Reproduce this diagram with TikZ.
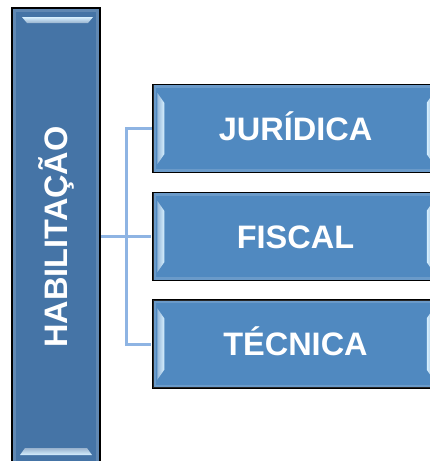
\documentclass[tikz,border=0pt]{standalone}
\usepackage{fontspec}
\setmainfont{Liberation Sans}
\usetikzlibrary{calc}
\definecolor{habblue}{RGB}{69,116,166}
\definecolor{boxblue}{RGB}{80,137,192}
\definecolor{linkblue}{RGB}{142,180,227}
\definecolor{shine}{RGB}{215,240,255}

\tikzset{
  bluebox/.style={draw=black, line width=1.5pt, fill=boxblue, minimum width=285pt,
    minimum height=88pt, text=white, text height=23.5pt, text depth=0pt,
    font=\bfseries\fontsize{32.5}{34}\selectfont},
  habbox/.style={bluebox, fill=habblue, minimum width=458pt, rotate=90},
  rim/.style={draw=white, draw opacity=0.15, line width=3pt},
  link/.style={draw=linkblue, line width=3pt, shorten >=0.8pt}
}

\begin{document}
\begin{tikzpicture}[x=1pt,y=1pt]
\useasboundingbox (0,0) rectangle (430,-461);
\clip (0,0) rectangle (430,-461);

\node[habbox] (hab) at (56,-237) {HABILITAÇÃO};
% the three kinds on the right
\foreach \name/\txt/\y in {jur/JURÍDICA/128.5, fis/FISCAL/236.5, tec/TÉCNICA/344}
  \node[bluebox] (\name) at (295.5,-\y) {\txt};

\coordinate (fork) at ($(hab.south)!0.5!(fis.west)$);
\draw[link] (fis.west -| hab.south) -- (fis.west);
\draw[link] (jur.west) -| (fork) |- (tec.west);

% bevel light on the left box
\draw[rim] ($(hab.center)+(-41.5,226.5)$) rectangle ($(hab.center)+(41.5,-226.5)$);
\shade[top color=shine, bottom color=habblue!55!white]
  ($(hab.center)+(-34,220)$) -- ($(hab.center)+(37,220)$)
  -- ($(hab.center)+(32,214)$) -- ($(hab.center)+(-29,214)$) -- cycle;
\shade[bottom color=shine, top color=habblue!55!white]
  ($(hab.center)+(-36,-218)$) -- ($(hab.center)+(36,-218)$)
  -- ($(hab.center)+(31,-211)$) -- ($(hab.center)+(-31,-211)$) -- cycle;

% bevel light on the right boxes
\foreach \name in {jur, fis, tec} {
  \draw[rim] ($(\name.north west)+(2.5,-2.5)$) rectangle ($(\name.south east)+(-2.5,2.5)$);
  \shade[left color=boxblue!60!white, right color=shine]
    ($(\name.north west)+(5,-9)$) -- ($(\name.north west)+(12,-19)$)
    -- ($(\name.south west)+(12,19)$) -- ($(\name.south west)+(5,9)$) -- cycle;
  \shade[right color=boxblue!60!white, left color=shine]
    ($(\name.north east)+(-5,-9)$) -- ($(\name.north east)+(-12,-19)$)
    -- ($(\name.south east)+(-12,19)$) -- ($(\name.south east)+(-5,9)$) -- cycle;
}
\end{tikzpicture}
\end{document}
